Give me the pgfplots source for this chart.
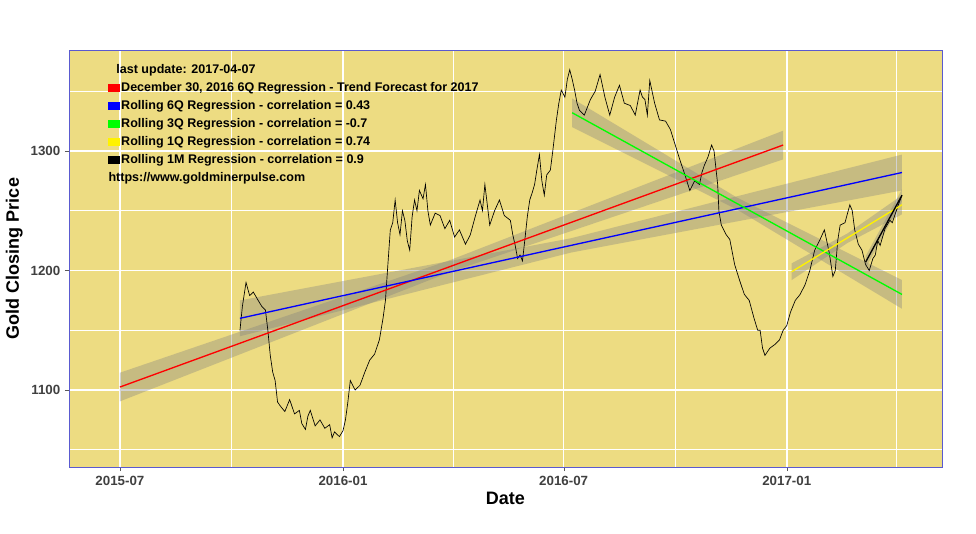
\documentclass[border=0pt]{standalone}
\usepackage{pgfplots}
\pgfplotsset{compat=1.18}
\usepackage{fontspec}
\setmainfont{Liberation Sans}
\definecolor{panel}{HTML}{EDDC82}
\definecolor{frame}{HTML}{5A5AD0}
\newcommand{\leg}[3]{%
 \fill[#1] ([xshift=0pt,yshift=-3pt]rel axis cs:0.045,#2) rectangle ([xshift=9pt,yshift=3pt]rel axis cs:0.045,#2);
 \node[anchor=west,inner sep=0pt] at ([xshift=9.5pt]rel axis cs:0.045,#2) {#3};}
\begin{document}
\begin{tikzpicture}
\useasboundingbox (-51.75pt,-49.5pt) rectangle (680.25pt,350.25pt);
\begin{axis}[at={(0,0)},anchor=south west,scale only axis,
 width=654.75pt,height=312.75pt,
 xmin=-42,xmax=678,ymin=1035.6,ymax=1384.5,
 axis background/.style={fill=panel},
 axis line style={frame},
 xtick={0,184,366,550},xticklabels={2015-07,2016-01,2016-07,2017-01},
 ytick={1100,1200,1300},
 minor xtick={92,275,458,640},minor ytick={1050,1150,1250,1350},
 grid=both,major grid style={white,line width=1.1pt},minor grid style={white,line width=0.5pt},
 tick style={gray!70!black},major tick length=3pt,minor tick length=0pt,
 tick align=outside,xtick pos=bottom,ytick pos=left,
 ticklabel style={font=\bfseries\fontsize{10}{11}\selectfont,text=black!75},
 /pgf/number format/assume math mode=true,
 /pgf/number format/1000 sep={},
 xlabel={\bfseries Date},ylabel={\bfseries Gold Closing Price},
 label style={font=\bfseries\fontsize{13.5}{15}\selectfont},
 xlabel style={yshift=2pt},ylabel style={yshift=-1pt},
 clip=true]
% bands
\addplot[fill=gray,fill opacity=0.35,draw=none] coordinates {(0,1090.5)(273,1199)(547,1293)(547,1317)(273,1209)(0,1114.5)} --cycle;
\addplot[fill=gray,fill opacity=0.35,draw=none] coordinates {(99,1145)(372,1215)(645,1267)(645,1297)(372,1227)(99,1175)} --cycle;
\addplot[fill=gray,fill opacity=0.35,draw=none] coordinates {(373,1320)(509,1251)(645,1168)(645,1192)(509,1261)(373,1344)} --cycle;
\addplot[fill=gray,fill opacity=0.35,draw=none] coordinates {(554,1192)(600,1223)(645,1247)(645,1263)(600,1231)(554,1206)} --cycle;
\addplot[fill=gray,fill opacity=0.35,draw=none] coordinates {(615,1202)(645,1258)(645,1268)(615,1212)} --cycle;
% price
\addplot[black,line width=0.5pt] coordinates {
(99,1150)(101,1170)(104,1190)(107,1179)(110,1182)(114,1175)(117,1170)(120,1167)(122,1150)(124,1129)(126,1115)(128,1108)(130,1090)(132,1087)(136,1082)(140,1092)(144,1080)(148,1083)(150,1072)(153,1067)(155,1078)(157,1083)(161,1070)(165,1075)(169,1068)(173,1071)(175,1060)(177,1065)(181,1061)(184,1066)(186,1075)(188,1090)(190,1108)(194,1100)(198,1104)(202,1115)(206,1125)(210,1130)(214,1142)(217,1160)(219,1175)(221,1205)(223,1234)(225,1240)(227,1259)(229,1240)(231,1230)(233,1250)(235,1242)(237,1225)(239,1217)(241,1245)(243,1259)(245,1250)(247,1267)(250,1260)(252,1272)(254,1250)(256,1238)(260,1248)(264,1246)(268,1235)(272,1242)(276,1228)(280,1234)(285,1222)(289,1230)(293,1245)(297,1259)(299,1250)(301,1272)(303,1255)(305,1238)(309,1250)(313,1259)(317,1246)(322,1242)(324,1230)(326,1221)(328,1210)(330,1213)(332,1208)(334,1226)(336,1245)(338,1259)(340,1265)(342,1272)(344,1285)(346,1297)(348,1275)(350,1263)(352,1280)(355,1284)(357,1300)(360,1326)(362,1340)(364,1351)(367,1345)(369,1360)(371,1368)(373,1360)(375,1351)(377,1340)(379,1334)(383,1330)(388,1343)(392,1350)(396,1364)(400,1345)(404,1330)(408,1345)(412,1355)(416,1340)(421,1338)(425,1330)(429,1351)(431,1345)(433,1343)(435,1330)(437,1359)(441,1340)(445,1326)(450,1325)(454,1318)(458,1305)(462,1292)(466,1280)(470,1267)(474,1275)(478,1272)(480,1282)(482,1288)(485,1295)(488,1305)(490,1300)(493,1272)(494,1250)(496,1238)(500,1230)(503,1226)(507,1205)(511,1192)(515,1180)(519,1175)(523,1160)(526,1150)(528,1150)(530,1135)(532,1129)(536,1135)(540,1138)(544,1142)(547,1150)(550,1154)(553,1165)(557,1175)(561,1180)(565,1188)(569,1200)(573,1217)(577,1225)(581,1234)(585,1215)(588,1195)(590,1200)(592,1225)(594,1238)(598,1240)(602,1255)(604,1250)(606,1234)(609,1222)(612,1217)(615,1205)(618,1200)(621,1210)(623,1213)(625,1225)(627,1221)(631,1235)(635,1242)(637,1240)(639,1246)(642,1255)(645,1263)};
% regressions
\addplot[red,line width=1pt] coordinates {(0,1102.5)(547,1305)};
\addplot[blue,line width=1pt] coordinates {(99,1160)(645,1282)};
\addplot[green,line width=1pt] coordinates {(373,1332)(645,1180)};
\addplot[yellow,line width=1pt] coordinates {(554,1199)(645,1255)};
\addplot[black,line width=1pt] coordinates {(615,1207)(645,1263)};
% legend
\begin{scope}[font=\bfseries\fontsize{9.4}{11}\selectfont]
\node[anchor=west,inner sep=0pt] at (rel axis cs:0.054,0.952) {last update: 2017-04-07};
\leg{red}{0.909}{December 30, 2016 6Q Regression - Trend Forecast for 2017}
\leg{blue}{0.866}{Rolling 6Q Regression - correlation = 0.43}
\leg{green}{0.823}{Rolling 3Q Regression - correlation = -0.7}
\leg{yellow}{0.779}{Rolling 1Q Regression - correlation = 0.74}
\leg{black}{0.736}{Rolling 1M Regression - correlation = 0.9}
\node[anchor=west,inner sep=0pt] at (rel axis cs:0.045,0.693) {https://www.goldminerpulse.com};
\end{scope}
\end{axis}
\end{tikzpicture}
\end{document}
